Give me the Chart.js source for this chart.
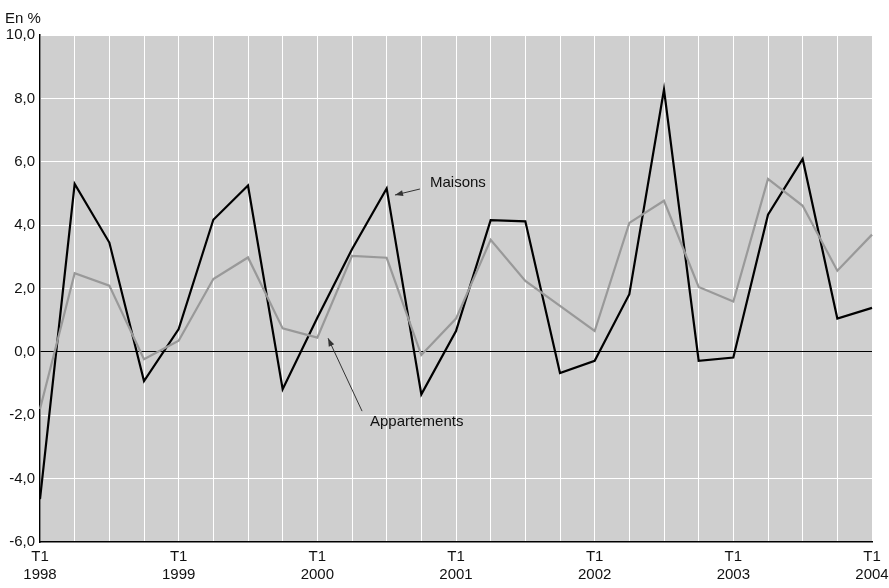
<!DOCTYPE html>
<html>
<head>
<meta charset="utf-8">
<script src="https://cdn.jsdelivr.net/npm/chart.js@4/dist/chart.umd.min.js"></script>
<style>
  html, body { margin: 0; padding: 0; background: #fff; }
  #wrap { width: 889px; height: 588px; }
</style>
</head>
<body>
<div id="wrap"><canvas id="graphique" width="889" height="588"></canvas></div>
<script>
// trimestres T1 1998 -> T1 2004
const annees = [1998, 1999, 2000, 2001, 2002, 2003, 2004]
const trimestres = []
annees.forEach(a => {
    for (let t = 1; t <= 4; t++) {
        if (a == 2004 && t > 1) break
        trimestres.push("T" + t + " " + a)
    }
})

const maisons = [-4.65, 5.3, 3.45, -0.92, 0.72, 4.17, 5.25, -1.18, 1.08, 3.24, 5.16, -1.34, 0.66,
    4.16, 4.12, -0.67, -0.28, 1.82, 8.28, -0.28, -0.18, 4.33, 6.09, 1.05, 1.39]
const appartements = [-1.8, 2.48, 2.09, -0.23, 0.35, 2.3, 2.98, 0.74, 0.45, 3.03, 2.97, -0.1, 1.05,
    3.54, 2.24, 1.45, 0.66, 4.07, 4.77, 2.05, 1.59, 5.46, 4.61, 2.56, 3.7]

const yMin = -6, yMax = 10, yStep = 2

// annotations (positions in data units)
const notes = [
    { texte: "Maisons", tx: 11.25, ty: 5.33, x1: 10.96, y1: 5.14, x2: 10.24, y2: 4.95 },
    { texte: "Appartements", tx: 9.52, ty: -2.22, x1: 9.29, y1: -1.87, x2: 8.31, y2: 0.43 }
]

const police = "'Liberation Sans', Arial, Helvetica, sans-serif"

const fond = {
    id: 'fond',
    beforeDraw(chart) {
        const { ctx, chartArea: a } = chart
        ctx.save()
        ctx.fillStyle = '#cfcfcf'
        ctx.fillRect(a.left, a.top, a.right - a.left, a.bottom - a.top)
        ctx.restore()
    },
    afterDraw(chart) {
        const ctx = chart.ctx
        const sx = chart.scales.x, sy = chart.scales.y
        ctx.save()
        ctx.fillStyle = '#111'
        ctx.font = "15px " + police
        ctx.textBaseline = 'alphabetic'
        ctx.textAlign = 'left'
        ctx.fillText("En %", 5, 23)

        notes.forEach(n => {
            const px = v => sx.left + (sx.right - sx.left) * v / (trimestres.length - 1)
            ctx.textBaseline = 'middle'
            ctx.fillStyle = '#111'
            ctx.fillText(n.texte, px(n.tx), sy.getPixelForValue(n.ty))
            const x1 = px(n.x1), y1 = sy.getPixelForValue(n.y1)
            const x2 = px(n.x2), y2 = sy.getPixelForValue(n.y2)
            ctx.strokeStyle = '#333'
            ctx.lineWidth = 1
            ctx.beginPath()
            ctx.moveTo(x1, y1)
            ctx.lineTo(x2, y2)
            ctx.stroke()
            const ang = Math.atan2(y2 - y1, x2 - x1)
            ctx.fillStyle = '#333'
            ctx.beginPath()
            ctx.moveTo(x2, y2)
            ctx.lineTo(x2 - 8 * Math.cos(ang) + 3 * Math.sin(ang), y2 - 8 * Math.sin(ang) - 3 * Math.cos(ang))
            ctx.lineTo(x2 - 8 * Math.cos(ang) - 3 * Math.sin(ang), y2 - 8 * Math.sin(ang) + 3 * Math.cos(ang))
            ctx.closePath()
            ctx.fill()
        })
        ctx.restore()
    }
}

const cvs = document.getElementById('graphique')
new Chart(cvs, {
    type: 'line',
    data: {
        labels: trimestres,
        datasets: [{
            label: 'Appartements',
            data: appartements,
            borderColor: '#999999',
            borderWidth: 2.2,
            pointRadius: 0,
            tension: 0,
            fill: false
        }, {
            label: 'Maisons',
            data: maisons,
            borderColor: '#000000',
            borderWidth: 2.2,
            pointRadius: 0,
            tension: 0,
            fill: false
        }]
    },
    options: {
        responsive: false,
        animation: false,
        layout: { padding: { top: 35, right: 17, left: 0, bottom: 0 } },
        plugins: {
            legend: { display: false },
            tooltip: { enabled: false }
        },
        scales: {
            x: {
                offset: false,
                afterFit(s) {
                    s.height = 46
                    s.paddingLeft = 0
                    s.paddingRight = 0
                },
                border: { display: true, color: '#000', width: 1.5 },
                grid: { color: '#ffffff', lineWidth: 1, drawTicks: false },
                ticks: {
                    autoSkip: false,
                    maxRotation: 0,
                    padding: 6,
                    color: '#111',
                    font: { family: police, size: 15, lineHeight: 1.2 },
                    callback: function (v, i) {
                        const l = trimestres[i]
                        if (l.startsWith("T1")) return l.split(" ")
                        return ""
                    }
                }
            },
            y: {
                min: yMin,
                max: yMax,
                afterFit(s) { s.width = 40 },
                border: { display: true, color: '#000', width: 1.5 },
                grid: {
                    color: c => c.tick && c.tick.value == 0 ? '#000000' : '#ffffff',
                    lineWidth: 1,
                    drawTicks: false
                },
                ticks: {
                    stepSize: yStep,
                    padding: 5,
                    color: '#111',
                    font: { family: police, size: 15 },
                    callback: v => v.toFixed(1).replace('.', ',')
                }
            }
        }
    },
    plugins: [fond]
})
</script>
</body>
</html>
